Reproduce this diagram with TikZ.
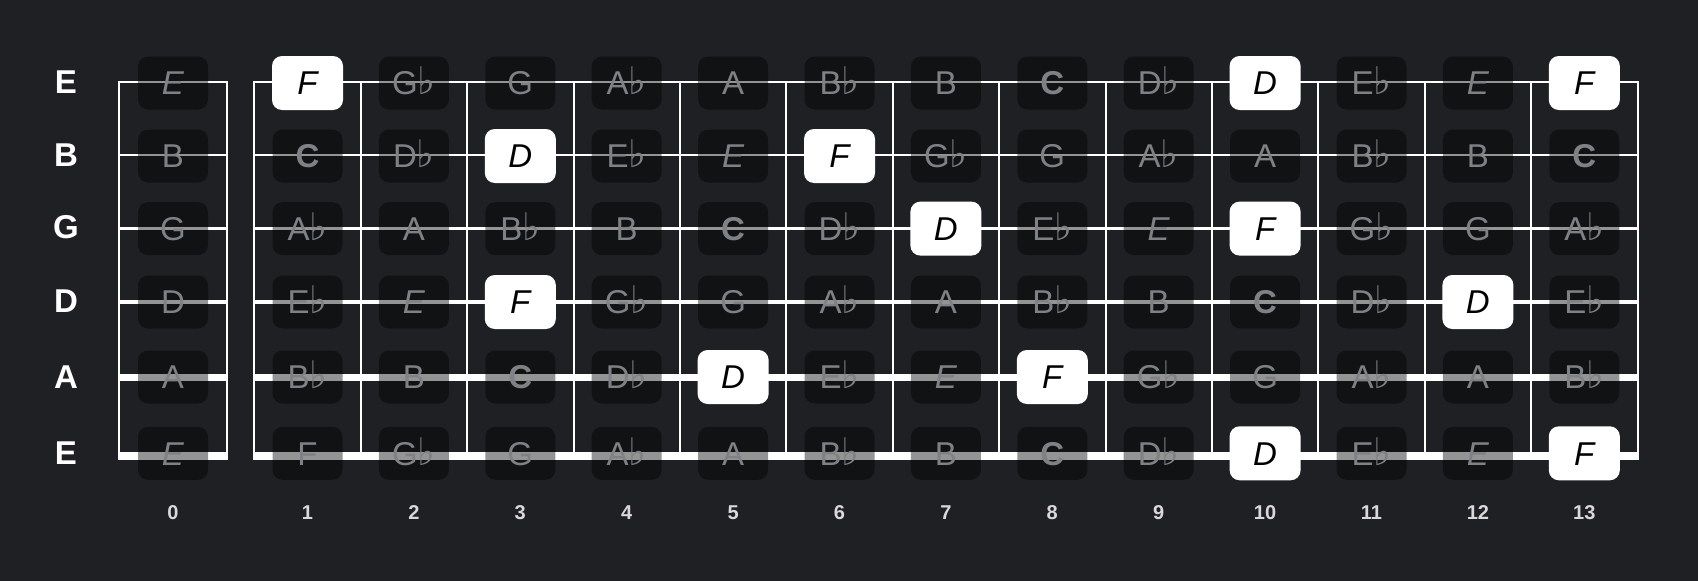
\documentclass[tikz,border=0pt]{standalone}
\usepackage{fontspec}
\setmainfont{Liberation Sans}
\newfontfamily\flatfont{DejaVu Sans}
\newcommand\fl{{\flatfont\fontsize{38}{38}\selectfont\char"266D}}
\definecolor{bg}{HTML}{1F2024}
\definecolor{notegray}{HTML}{808184}
\definecolor{numcol}{HTML}{D9D9D9}
\begin{document}
\begin{tikzpicture}[x=1pt,y=-1pt,
  notebox/.style={rounded corners=10pt, minimum width=70pt, minimum height=53pt,
    inner sep=0pt, font=\fontsize{33}{33}\selectfont, text height=23.6pt, text depth=0pt},
  dimnote/.style={notebox, fill=black, fill opacity=0.42, text opacity=1, text=notegray},
  nt-n/.style={dimnote},
  nt-i/.style={dimnote, font=\fontsize{33}{33}\selectfont\itshape},
  nt-b/.style={dimnote, font=\fontsize{33}{33}\selectfont\bfseries},
  nt-h/.style={notebox, minimum height=54pt, minimum width=71pt, fill=white, text=black,
    font=\fontsize{33}{33}\selectfont\itshape},
  strlabel/.style={text=white, font=\fontsize{33}{33}\selectfont\bfseries, inner sep=0pt,
    text height=23.6pt, text depth=0pt},
  fretnum/.style={text=numcol, font=\fontsize{20}{20}\selectfont\bfseries, inner sep=0pt,
    text height=14.3pt, text depth=0pt},
  fretline/.style={draw=white, line width=2pt},
]
\fill[bg] (0,0) rectangle (1698,581);
% frets
\draw[fretline] (119,81) -- (119,460);
\draw[fretline] (227,81) -- (227,460);
\foreach \k in {0,...,13}{
  \draw[fretline] ({254.3+106.4*\k},81) -- ({254.3+106.4*\k},460);
}
% strings
\foreach \sy/\sw in {82/2, 155.3/2.2, 228.4/2.6, 302/4, 377.6/6.5, 455.9/8.2}{
  \draw[white, line width=\sw pt] (118,\sy) -- (228,\sy);
  \draw[white, line width=\sw pt] (253.3,\sy) -- (1638.9,\sy);
}
% string labels
\foreach \r/\yy/\lab in {1/82/E, 2/154.5/B, 3/226.5/G, 4/301/D, 5/377/A, 6/453/E}{
  \node[strlabel] (lab-\r) at (66,\yy) {\lab};
}
% fret numbers
\foreach \f in {0,...,13}{
  \pgfmathsetmacro\xx{\f==0 ? 173 : 254.3+106.4*(\f-0.5)}
  \node[fretnum] (num-\f) at (\xx,512.5) {\f};
}
% notes
\foreach \r/\yy/\notes in {
  1/83/{E/i, F/h, G\fl/n, G/n, A\fl/n, A/n, B\fl/n, B/n, C/b, D\fl/n, D/h, E\fl/n, E/i, F/h},
  2/156/{B/n, C/b, D\fl/n, D/h, E\fl/n, E/i, F/h, G\fl/n, G/n, A\fl/n, A/n, B\fl/n, B/n, C/b},
  3/228.6/{G/n, A\fl/n, A/n, B\fl/n, B/n, C/b, D\fl/n, D/h, E\fl/n, E/i, F/h, G\fl/n, G/n, A\fl/n},
  4/302/{D/n, E\fl/n, E/i, F/h, G\fl/n, G/n, A\fl/n, A/n, B\fl/n, B/n, C/b, D\fl/n, D/h, E\fl/n},
  5/377/{A/n, B\fl/n, B/n, C/b, D\fl/n, D/h, E\fl/n, E/i, F/h, G\fl/n, G/n, A\fl/n, A/n, B\fl/n},
  6/453.3/{E/i, F/n, G\fl/n, G/n, A\fl/n, A/n, B\fl/n, B/n, C/b, D\fl/n, D/h, E\fl/n, E/i, F/h}}{
  \foreach \nm/\st [count=\c from 0] in \notes {
    \pgfmathsetmacro\xx{\c==0 ? 173 : 254.3+106.4*(\c-0.5)}
    \node[nt-\st] (n-\r-\c) at (\xx,\yy) {\nm};
  }
}
\end{tikzpicture}
\end{document}
